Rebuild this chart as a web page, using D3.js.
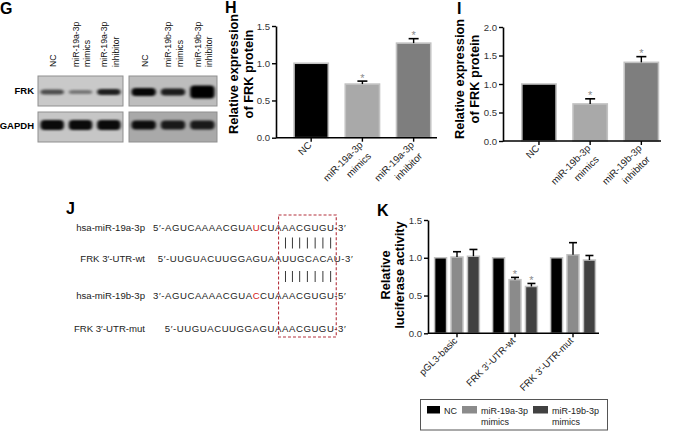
<!DOCTYPE html>
<html>
<head>
<meta charset="utf-8">
<script src="https://cdn.jsdelivr.net/npm/d3@7"></script>
<style>
	body { margin: 0; background: #fff; }
	svg text { font-family: Arial, "Liberation Sans", sans-serif; }
</style>
</head>
<body>
<script>
//--------------------------------DATA-----------------------------------------------
// western blot lanes (G), "|" splits a label on two lines
var laneLabelsA = ["NC", "miR-19a-3p|mimics", "miR-19a-3p|inhibitor"];
var laneLabelsB = ["NC", "miR-19b-3p|mimics", "miR-19b-3p|inhibitor"];
var frkDarkA = [0.62, 0.42, 0.85];
var frkThickA = [5, 4, 6];
var gapdhDarkA = [0.95, 0.95, 0.95];
var frkDarkB = [0.97, 0.85, 1.0];
var frkThickB = [8, 7, 13];
var gapdhDarkB = [0.92, 0.85, 0.85];

// panel H
var hCats = ["NC", "miR-19a-3p|mimics", "miR-19a-3p|inhibitor"];
var hValues = [1.0, 0.72, 1.27];
var hErrors = [0, 0.04, 0.06];
var hStars = [false, true, true];
var hTicks = [0, 0.5, 1.0, 1.5];

// panel I
var iCats = ["NC", "miR-19b-3p|mimics", "miR-19b-3p|inhibitor"];
var iValues = [1.0, 0.65, 1.38];
var iErrors = [0, 0.09, 0.1];
var iStars = [false, true, true];
var iTicks = [0, 0.5, 1.0, 1.5, 2.0];

// panel J
var seqLabels = ["hsa-miR-19a-3p", "FRK 3\u2032-UTR-wt", "hsa-miR-19b-3p", "FRK 3\u2032-UTR-mut"];
var seqStrings = ["5\u2032-AGUCAAAACGUAUCUAAACGUGU-3\u2032", "5\u2032-UUGUACUUGGAGUAAUUGCACAU-3\u2032",
	"3\u2032-AGUCAAAACGUACCUAAACGUGU-5\u2032", "5\u2032-UUGUACUUGGAGUAAACGUGU-3\u2032"];
var seqRedChar = [15, -1, 15, -1];
var seqBoxChar = [18, 17, 18, 16];   // letter cut by the left edge of the seed box

// panel K
var kGroups = ["pGL3-basic", "FRK 3\u2032-UTR-wt", "FRK 3\u2032-UTR-mut"];
var kSeries = ["NC", "miR-19a-3p|mimics", "miR-19b-3p|mimics"];
var kNC = [1.0, 1.0, 1.0];
var kMir19a = [1.01, 0.71, 1.04];
var kMir19b = [1.02, 0.62, 0.97];
var kNCErr = [0, 0, 0];
var kMir19aErr = [0.07, 0.03, 0.16];
var kMir19bErr = [0.09, 0.04, 0.06];
var kMir19aStar = [false, true, false];
var kMir19bStar = [false, true, false];
var kTicks = [0, 0.5, 1.0, 1.5];
//------------------------------------------------------------------------------------

var svg = d3.select("body").append("svg")
	.attr("width", 675)
	.attr("height", 431);

var defs = svg.append("defs");
defs.append("filter").attr("id", "bandBlur")
	.attr("x", "-30%").attr("y", "-100%").attr("width", "160%").attr("height", "300%")
	.append("feGaussianBlur").attr("stdDeviation", "1.4 1.1");

function panelLetter(t, x, y) {
	svg.append("text").attr("x", x).attr("y", y)
		.attr("font-size", 16).attr("font-weight", "bold").text(t);
}
panelLetter("G", 0, 14);
panelLetter("H", 225, 13);
panelLetter("I", 457, 14);
panelLetter("J", 66, 214);
panelLetter("K", 377, 216);

//--------------------------------BLOT (G)-------------------------------------------
function blot(labels, x0, x1, frkDark, frkThick, gapdhDark, gapdhThick, bgFrk, bgGapdh) {
	var lanes = d3.scaleBand().domain(d3.range(3)).range([x0, x1]).paddingInner(0.1).paddingOuter(0.05);
	var g = svg.append("g");
	var rows = [{y: 76, h: 30, bg: bgFrk, dark: frkDark, thick: frkThick, cy: 92},
		{y: 112, h: 30, bg: bgGapdh, dark: gapdhDark, thick: gapdhThick, cy: 125}];
	rows.forEach(function(r) {
		g.append("rect").attr("x", x0).attr("y", r.y).attr("width", x1 - x0).attr("height", r.h)
			.attr("fill", r.bg).attr("stroke", "#8f8f8f").attr("stroke-width", 1);
		g.selectAll(null).data(r.dark).join("rect")
			.attr("x", (d, i) => lanes(i) + 1)
			.attr("width", lanes.bandwidth() - 2)
			.attr("y", (d, i) => r.cy - (Array.isArray(r.thick) ? r.thick[i] : r.thick) / 2)
			.attr("height", (d, i) => Array.isArray(r.thick) ? r.thick[i] : r.thick)
			.attr("rx", 4)
			.attr("fill", "#000")
			.attr("fill-opacity", d => d)
			.attr("filter", "url(#bandBlur)");
	});
	labels.forEach(function(lab, i) {
		var lines = lab.split("|");
		lines.forEach(function(line, k) {
			var bx = lanes(i) + lanes.bandwidth() / 2 + 4 + (k - (lines.length - 1) / 2) * 11.5;
			g.append("text")
				.attr("transform", "translate(" + bx + ",67) rotate(-90)")
				.attr("font-size", 8.7).attr("fill", "#111").text(line);
		});
	});
}
blot(laneLabelsA, 38, 123, frkDarkA, frkThickA, gapdhDarkA, 10, "#c9c9c9", "#c6c6c6");
blot(laneLabelsB, 129, 217, frkDarkB, frkThickB, gapdhDarkB, 9, "#bdbdbd", "#a9a9a9");

svg.append("text").attr("x", 34).attr("y", 94).attr("text-anchor", "end")
	.attr("font-size", 9.5).attr("font-weight", "bold").text("FRK");
svg.append("text").attr("x", 34).attr("y", 128.5).attr("text-anchor", "end")
	.attr("font-size", 9.5).attr("font-weight", "bold").text("GAPDH");

//--------------------------------helpers for bar charts-----------------------------
function yAxis(g, y, ax, ticks) {
	var a = g.append("g").attr("transform", "translate(" + ax + ",0)")
		.call(d3.axisLeft(y).tickValues(ticks).tickFormat(d3.format(".1f")).tickSize(4).tickSizeOuter(0).tickPadding(2));
	a.select(".domain").attr("stroke-width", 1.6);
	a.selectAll(".tick line").attr("stroke-width", 1.4);
	a.selectAll("text").attr("font-size", 9.6).attr("fill", "#333").attr("font-family", "Arial, 'Liberation Sans', sans-serif");
}

function xLabels(g, cats, xOf, y0, fs) {
	cats.forEach(function(c, i) {
		var t = g.append("text")
			.attr("transform", "translate(" + (xOf(i) + 1) + "," + (y0 + 8) + ") rotate(-45)")
			.attr("text-anchor", "end").attr("font-size", fs).attr("fill", "#222");
		c.split("|").forEach(function(line, k) {
			t.append("tspan").attr("x", k ? -2 : 0).attr("dy", k ? "1.4em" : 0).text(line);
		});
	});
}

function yTitle(lines, x, yc, gap) {
	lines.forEach(function(line, k) {
		svg.append("text").attr("transform", "translate(" + (x + k * gap) + "," + yc + ") rotate(-90)")
			.attr("text-anchor", "middle").attr("font-size", 12.8).attr("font-weight", "bold").text(line);
	});
}

function errBar(g, cx, yTop, yVal, capW) {
	g.append("line").attr("x1", cx).attr("x2", cx).attr("y1", yVal).attr("y2", yTop)
		.attr("stroke", "#000").attr("stroke-width", 1.4);
	g.append("line").attr("x1", cx - capW / 2).attr("x2", cx + capW / 2).attr("y1", yTop).attr("y2", yTop)
		.attr("stroke", "#000").attr("stroke-width", 1.6);
}

function star(g, cx, yTop) {
	g.append("text").attr("x", cx).attr("y", yTop + 0.5).attr("text-anchor", "middle")
		.attr("font-size", 11).attr("fill", "#8a8a8a").text("*");
}

//--------------------------------H and I--------------------------------------------
function barPanel(cats, values, errors, stars, ticks, axX, axEnd, r0, r1, yBottom, yTopPx, colors) {
	var g = svg.append("g");
	var y = d3.scaleLinear().domain([0, ticks[ticks.length - 1]]).range([yBottom, yTopPx]);
	var x = d3.scaleBand().domain(cats).range([r0, r1]).paddingInner(0.3).paddingOuter(0.2);

	g.selectAll("rect.bar").data(values).join("rect").attr("class", "bar")
		.attr("x", (d, i) => x(cats[i]) + 0.8)
		.attr("width", x.bandwidth() - 1.6)
		.attr("y", d => y(d))
		.attr("height", d => yBottom - y(d))
		.attr("fill", (d, i) => colors[i])
		.attr("stroke", "#c2c2c2").attr("stroke-width", 1.6);

	values.forEach(function(v, i) {
		var cx = x(cats[i]) + x.bandwidth() / 2;
		if (errors[i] > 0) errBar(g, cx, y(v + errors[i]), y(v), 10);
		if (stars[i]) star(g, cx, y(v + errors[i]));
	});

	g.append("line").attr("x1", axX).attr("x2", axEnd).attr("y1", yBottom).attr("y2", yBottom)
		.attr("stroke", "#000").attr("stroke-width", 1.6);
	cats.forEach(function(c) {
		var cx = x(c) + x.bandwidth() / 2;
		g.append("line").attr("x1", cx).attr("x2", cx).attr("y1", yBottom).attr("y2", yBottom + 4)
			.attr("stroke", "#000").attr("stroke-width", 1.4);
	});
	yAxis(g, y, axX, ticks);
	xLabels(g, cats, i => x(cats[i]) + x.bandwidth() / 2, yBottom, 9.8);
}

barPanel(hCats, hValues, hErrors, hStars, hTicks, 276, 437, 283, 441.8, 137.7, 26, ["#000", "#a9a9a9", "#7e7e7e"]);
yTitle(["Relative expression", "of FRK protein"], 238, 74, 15);

barPanel(iCats, iValues, iErrors, iStars, iTicks, 503, 661, 510.8, 669.5, 141, 27, ["#000", "#a9a9a9", "#7e7e7e"]);
yTitle(["Relative expression", "of FRK protein"], 464, 79, 15);

//--------------------------------J--------------------------------------------------
var rowBase = [231, 262, 299, 332];
var jg = svg.append("g").attr("font-size", 9.6).attr("fill", "#222");
seqLabels.forEach(function(l, i) {
	jg.append("text").attr("x", 145).attr("y", rowBase[i]).attr("text-anchor", "end").text(l);
});

// first row sets the reference; the others are shifted so the seed letters line up
var seqNodes = [];
seqStrings.forEach(function(s, i) {
	var t = jg.append("text").attr("x", 153).attr("y", rowBase[i]).attr("letter-spacing", 0.55);
	var red = seqRedChar[i];
	if (red < 0) {
		t.append("tspan").text(s);
	} else {
		t.append("tspan").text(s.slice(0, red));
		t.append("tspan").attr("fill", "#d62020").text(s.slice(red, red + 1));
		t.append("tspan").text(s.slice(red + 1));
	}
	seqNodes.push(t);
});

function charMid(node, k) {
	var n = node.node();
	return (n.getStartPositionOfChar(k).x + n.getEndPositionOfChar(k).x) / 2;
}
var boxLeft = charMid(seqNodes[0], seqBoxChar[0]);
seqNodes.forEach(function(t, i) {
	var shift = boxLeft - charMid(t, seqBoxChar[i]);
	t.attr("x", 153 + shift);
});
var boxRight = charMid(seqNodes[0], seqStrings[0].length - 3);

// base-pairing ticks under the seed
var pairIdx = d3.range(seqBoxChar[0] + 1, seqBoxChar[0] + 8);
[243, 276.5].forEach(function(cy) {
	jg.selectAll(null).data(pairIdx).join("line")
		.attr("x1", k => charMid(seqNodes[0], k)).attr("x2", k => charMid(seqNodes[0], k))
		.attr("y1", cy - 5.5).attr("y2", cy + 5.5)
		.attr("stroke", "#222").attr("stroke-width", 0.9);
});

svg.append("rect").attr("x", boxLeft).attr("y", 215).attr("width", boxRight - boxLeft).attr("height", 122)
	.attr("fill", "none").attr("stroke", "#b3303c").attr("stroke-width", 1.1).attr("stroke-dasharray", "3,2");

//--------------------------------K--------------------------------------------------
var kColors = ["#000", "#8b8b8b", "#414141"];
var kVals = [kNC, kMir19a, kMir19b];
var kErrs = [kNCErr, kMir19aErr, kMir19bErr];
var kStar = [[false, false, false], kMir19aStar, kMir19bStar];

var kg = svg.append("g");
var ky = d3.scaleLinear().domain([0, 1.5]).range([333.3, 220]);
var kx = d3.scaleBand().domain(kGroups).range([428, 602]);
var kxIn = d3.scaleBand().domain(kSeries).range([-23, 23]).paddingInner(0.2);

kSeries.forEach(function(s, si) {
	kGroups.forEach(function(gName, gi) {
		var v = kVals[si][gi];
		var bx = kx(gName) + kx.bandwidth() / 2 + kxIn(s);
		kg.append("rect")
			.attr("x", bx + 0.6).attr("width", kxIn.bandwidth() - 1.2)
			.attr("y", ky(v)).attr("height", ky(0) - ky(v))
			.attr("fill", kColors[si]).attr("stroke", "#c2c2c2").attr("stroke-width", 1.5);
		var cx = bx + kxIn.bandwidth() / 2;
		var e = kErrs[si][gi];
		if (e > 0) errBar(kg, cx, ky(v + e), ky(v), 8);
		if (kStar[si][gi]) star(kg, cx, ky(v + e));
	});
});
kg.append("line").attr("x1", 428).attr("x2", 599).attr("y1", ky(0)).attr("y2", ky(0))
	.attr("stroke", "#000").attr("stroke-width", 1.6);
kGroups.forEach(function(gName) {
	var cx = kx(gName) + kx.bandwidth() / 2;
	kg.append("line").attr("x1", cx).attr("x2", cx).attr("y1", ky(0)).attr("y2", ky(0) + 4)
		.attr("stroke", "#000").attr("stroke-width", 1.4);
});
yAxis(kg, ky, 428, kTicks);
xLabels(kg, kGroups, i => kx(kGroups[i]) + kx.bandwidth() / 2, ky(0), 9.6);
yTitle(["Relative", "luciferase activity"], 390, 275, 13.5);

// legend
var lg = svg.append("g");
lg.append("rect").attr("x", 420.5).attr("y", 399.5).attr("width", 187).attr("height", 30.5)
	.attr("fill", "none").attr("stroke", "#555").attr("stroke-width", 1);
var legX = [427, 462, 533];
kSeries.forEach(function(s, i) {
	lg.append("rect").attr("x", legX[i]).attr("y", 406).attr("width", i ? 15 : 13).attr("height", 7.5)
		.attr("fill", kColors[i]);
	var t = lg.append("text").attr("x", legX[i] + (i ? 19 : 17)).attr("y", 413.5)
		.attr("font-size", 9).attr("fill", "#222");
	s.split("|").forEach(function(line, k) {
		t.append("tspan").attr("x", legX[i] + (i ? 19 : 17)).attr("dy", k ? "1.25em" : 0).text(line);
	});
});
</script>
</body>
</html>
